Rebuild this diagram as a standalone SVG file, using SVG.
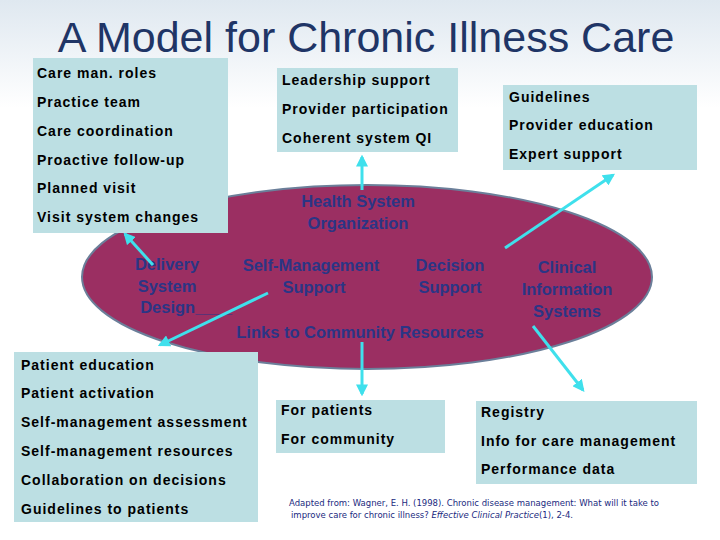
<svg xmlns="http://www.w3.org/2000/svg" width="720" height="540" viewBox="0 0 720 540">
<defs>
<linearGradient id="bg" x1="0" y1="0" x2="0" y2="1"><stop offset="0" stop-color="#dfe8f0"/><stop offset="0.2" stop-color="#ffffff"/></linearGradient>
<marker id="ah" viewBox="0 0 10 10" refX="8" refY="5" markerWidth="4" markerHeight="4" orient="auto"><path d="M0,0L10,5L0,10z" fill="#3fe0ec"/></marker>
<style>
.box{fill:#bcdfe3}
.bt{font-family:"Liberation Sans",Arial,sans-serif;font-size:14px;font-weight:bold;fill:#000;letter-spacing:1px}
.et{font-family:"Liberation Sans",Arial,sans-serif;font-size:16.5px;font-weight:bold;fill:#2b3585;text-anchor:middle}
.ar{stroke:#3fe0ec;stroke-width:3;fill:none;marker-end:url(#ah)}
</style>
</defs>
<rect width="720" height="540" fill="url(#bg)"/>
<text x="366" y="52" text-anchor="middle" font-family="Liberation Sans,Arial,sans-serif" font-size="43" fill="#1f3566">A Model for Chronic Illness Care</text>
<g id="ellipse"><ellipse cx="367" cy="277" rx="285" ry="92" fill="#9b2f62" stroke="#6b7f9a" stroke-width="2"/>
<text class="et" x="358" y="207">Health System</text><text class="et" x="358" y="229">Organization</text>
<text class="et" x="167" y="270">Delivery</text><text class="et" x="167" y="292">System</text><text class="et" x="186" y="313">Design____</text>
<text class="et" x="311" y="271">Self-Management</text><text class="et" x="314" y="293">Support</text>
<text class="et" x="450" y="271">Decision</text><text class="et" x="450" y="293">Support</text>
<text class="et" x="567" y="273">Clinical</text><text class="et" x="567" y="295">Information</text><text class="et" x="567" y="317">Systems</text>
<text class="et" x="360" y="338">Links to Community Resources</text></g>
<g id="connectors">
<line class="ar" x1="153" y1="265" x2="125" y2="234"/>
<line class="ar" x1="362" y1="190" x2="362" y2="157"/>
<line class="ar" x1="505" y1="248" x2="613" y2="175"/>
<line class="ar" x1="268" y1="293" x2="160" y2="345"/>
<line class="ar" x1="362" y1="342" x2="362" y2="394"/>
<line class="ar" x1="533" y1="326" x2="583" y2="390"/>
</g>
<g id="delivery"><rect class="box" x="33" y="58" width="195" height="175"/>
<text class="bt" x="37" y="78">Care man. roles</text><text class="bt" x="37" y="107">Practice team</text><text class="bt" x="37" y="136">Care coordination</text><text class="bt" x="37" y="165">Proactive follow-up</text><text class="bt" x="37" y="193">Planned visit</text><text class="bt" x="37" y="222">Visit system changes</text></g>
<g id="hso"><rect class="box" x="277" y="68" width="181" height="84"/>
<text class="bt" x="282" y="85">Leadership support</text><text class="bt" x="282" y="114">Provider participation</text><text class="bt" x="282" y="143">Coherent system QI</text></g>
<g id="decision"><rect class="box" x="503" y="85" width="194" height="85"/>
<text class="bt" x="509" y="102">Guidelines</text><text class="bt" x="509" y="130">Provider education</text><text class="bt" x="509" y="159">Expert support</text></g>
<g id="selfmgmt"><rect class="box" x="14" y="352" width="244" height="170"/>
<text class="bt" x="21" y="370">Patient education</text><text class="bt" x="21" y="398">Patient activation</text><text class="bt" x="21" y="427">Self-management assessment</text><text class="bt" x="21" y="456">Self-management resources</text><text class="bt" x="21" y="485">Collaboration on decisions</text><text class="bt" x="21" y="514">Guidelines to patients</text></g>
<g id="community"><rect class="box" x="276" y="400" width="169" height="53"/>
<text class="bt" x="281" y="415">For patients</text><text class="bt" x="281" y="444">For community</text></g>
<g id="cis"><rect class="box" x="476" y="401" width="221" height="83"/>
<text class="bt" x="481" y="417">Registry</text><text class="bt" x="481" y="446">Info for care management</text><text class="bt" x="481" y="474">Performance data</text></g>
<text x="289" y="506" font-family="DejaVu Sans,sans-serif" font-size="8.5" fill="#1a2a80">Adapted from: Wagner, E. H. (1998). Chronic disease management: What will it take to</text>
<text x="291" y="518" font-family="DejaVu Sans,sans-serif" font-size="8.5" fill="#1a2a80">improve care for chronic illness? <tspan font-style="italic">Effective Clinical Practice</tspan>(1), 2-4.</text>
</svg>
